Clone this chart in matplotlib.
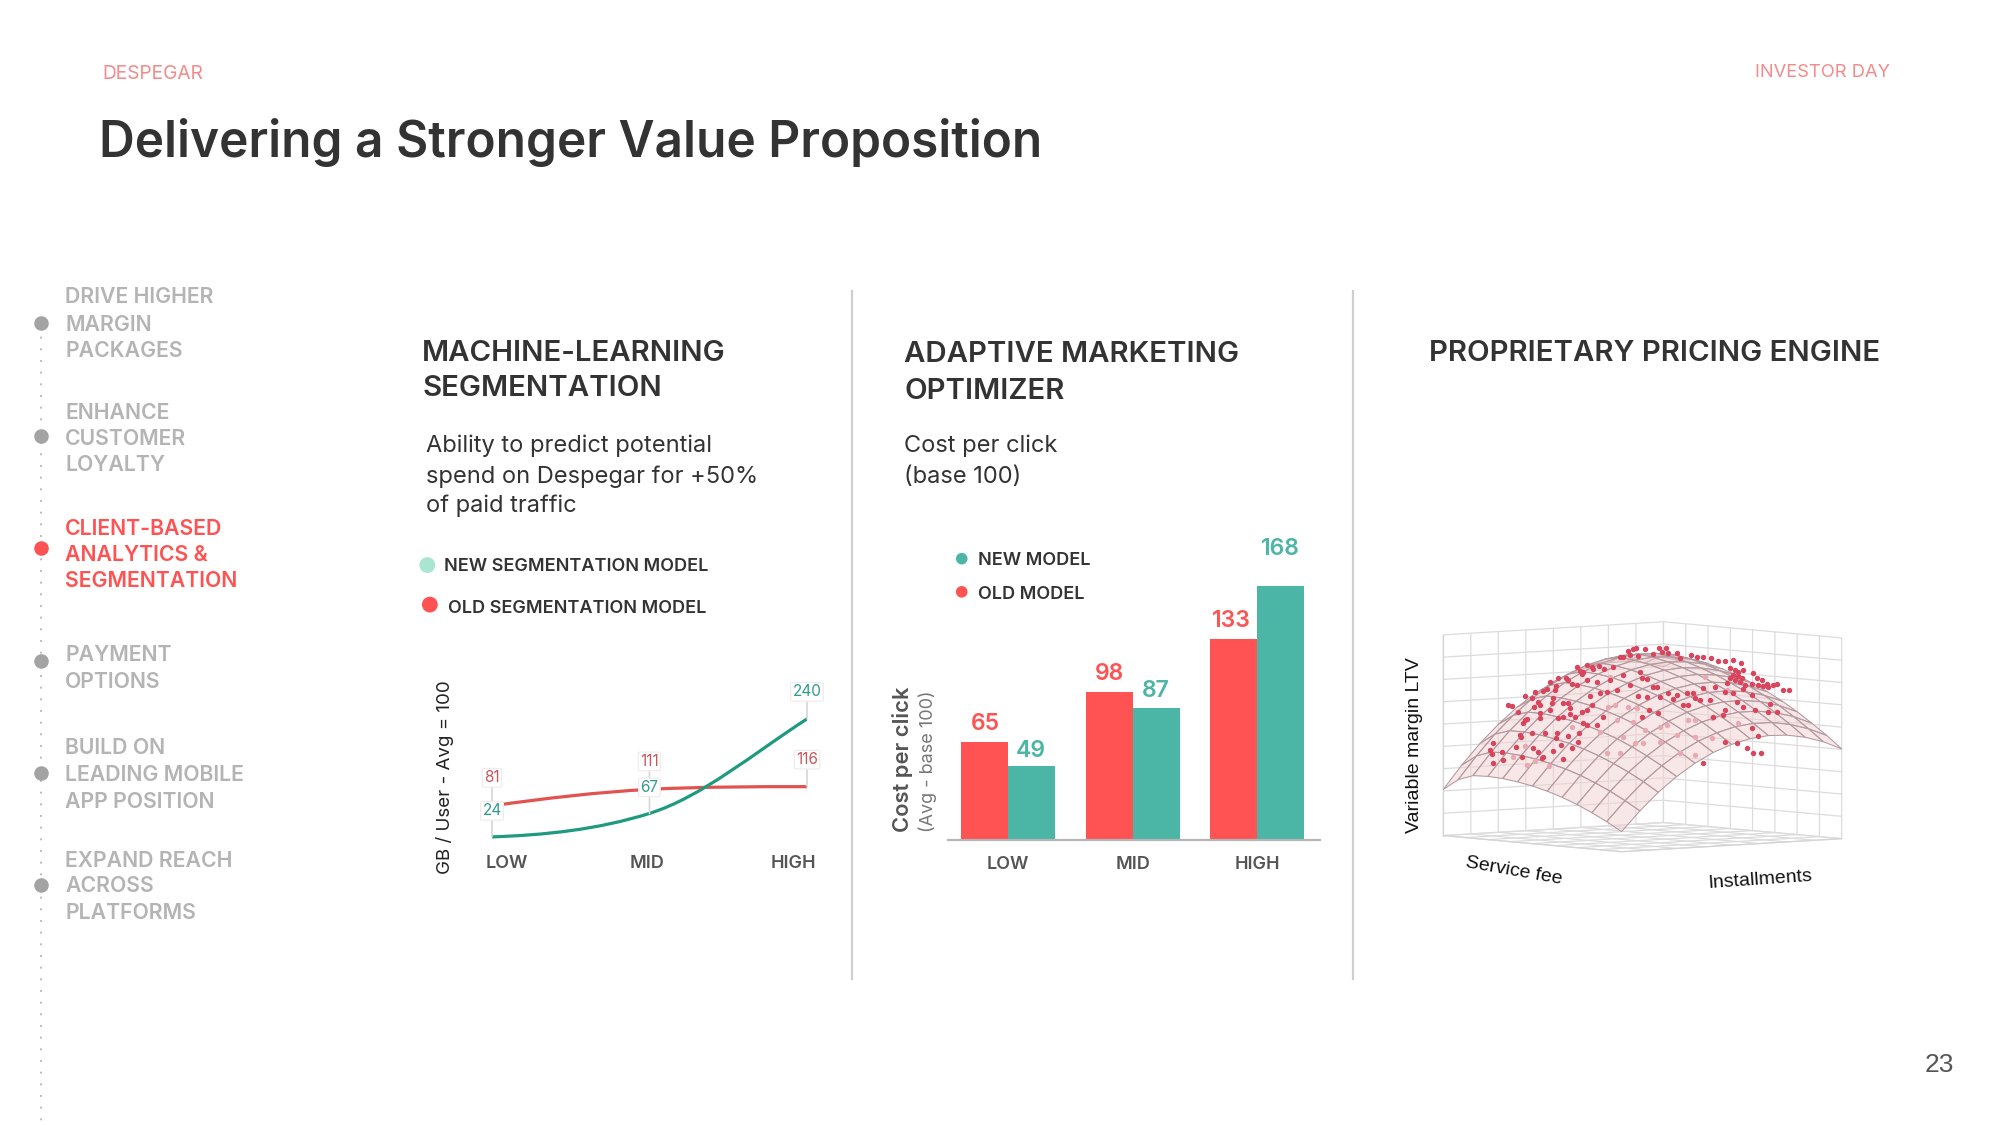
import numpy as np
import matplotlib
matplotlib.use("Agg")
import matplotlib.pyplot as plt
from matplotlib.path import Path
from matplotlib.patches import PathPatch
from mpl_toolkits.mplot3d import proj3d

# ---------- data ----------
nav_items = [("DRIVE HIGHER", "MARGIN", "PACKAGES"), ("ENHANCE", "CUSTOMER", "LOYALTY"),
             ("CLIENT-BASED", "ANALYTICS &", "SEGMENTATION"), ("PAYMENT", "OPTIONS"),
             ("BUILD ON", "LEADING MOBILE", "APP POSITION"), ("EXPAND REACH", "ACROSS", "PLATFORMS")]
categories = ["LOW", "MID", "HIGH"]
seg_new = [24, 67, 240]
seg_old = [81, 111, 116]
seg_new_slopes = [10, 90, 185]
seg_old_slopes = [40, 15, 0]
cpc_old = [65, 98, 133]
cpc_new = [49, 87, 168]

# margin surface: rows along installments, columns along service fee
ltv_surface = np.array([
 [.100,.143,.181,.215,.244,.268,.287,.301,.311,.315,.312,.285,.230],
 [.198,.242,.282,.317,.348,.373,.393,.409,.420,.426,.424,.398,.345],
 [.285,.331,.372,.408,.440,.467,.489,.505,.518,.525,.525,.501,.448],
 [.358,.405,.447,.486,.519,.547,.570,.588,.602,.611,.612,.589,.538],
 [.419,.468,.511,.551,.585,.615,.639,.659,.674,.684,.687,.665,.616],
 [.467,.517,.562,.603,.639,.670,.696,.717,.734,.744,.748,.728,.680],
 [.502,.553,.600,.642,.679,.712,.739,.761,.780,.792,.797,.779,.732],
 [.525,.578,.625,.669,.708,.742,.770,.794,.814,.827,.834,.817,.772],
 [.535,.589,.638,.683,.723,.759,.789,.814,.835,.850,.858,.842,.798],
 [.532,.588,.638,.685,.726,.762,.794,.821,.843,.860,.869,.855,.812],
 [.516,.573,.625,.673,.716,.753,.786,.814,.838,.856,.867,.854,.813],
 [.488,.546,.600,.649,.693,.732,.767,.796,.821,.841,.853,.841,.801],
 [.447,.507,.561,.612,.658,.698,.734,.765,.791,.812,.825,.815,.777]])

# customers, as projected on the picture plane
cust_front = [(355,285),(367,288),(385,307),(404,257),(427,265),(435,245),(458,243),(472,238),(480,215),(497,228),(495,240),(505,203),(527,203),(533,209),(562,172),(570,183),(578,185),(575,192),(592,165),(605,170),(610,177),(628,168),(642,178),(668,172),(690,140),(700,142),(715,122),(728,118),(738,113),(720,135),(745,138),(765,118),(790,132),(808,115),(815,125),(828,115),(835,128),(862,128),(870,145),(903,135),(920,142),(940,142),(962,143),(985,152),(1005,153),(1028,150),(1052,160),(1060,180),(1090,190),(1100,205),(1115,210),(1130,222),(1160,222),(1180,240),(1198,240),
(1020,175),(1035,180),(1045,185),(1030,195),(1045,198),(1055,205),(1020,205),(1035,210),(1050,215),(1010,218),(1065,225),(1085,222),(1105,225),(1120,228),(1135,232),(1150,225),(1060,238),(1085,255),
(445,275),(432,292),(450,285),(490,265),(487,280),(480,300),(450,308),(450,325),(405,330),(400,340),(412,328),(540,295),(535,278),(520,280),(505,325),(520,320),(540,312),(575,305),(590,300),(605,285),(600,258),(630,250),(650,245),(680,240),(720,225),(755,205),(770,207),(750,185),(700,195),(660,210),(620,215),(590,210),(560,225),(545,222),(745,258),(770,262),(790,232),(800,230),(835,250),(860,255),(890,248),(910,250),(940,235),(975,230),(1005,245),(1030,248),(915,265),(930,270),(960,270),(880,285),(895,285),(850,268),(810,260),(778,300),(805,308),(755,320),(640,320),(590,345),(580,340),(555,320),(620,345),(568,370),(535,378),(500,370),(497,385),(465,370),(425,368),(390,375),(392,382),(310,400),(300,420),(305,432),(335,425),(378,410),(430,415),(445,425),(460,440),(490,423),(512,405),(547,415),(565,395),(395,440),(340,450),(308,458),(520,448),(455,445),(1040,398),(1005,397),(1070,415),(1090,428),(1113,430),(1105,378),(1085,355),(938,460),(1140,283),(1160,305),(1135,305),(1095,300),(1060,290),(1040,275),(1005,300),(970,322),(1000,315)]
cust_behind = [(404,408),(370,440),(435,452),(478,468),(410,465),(545,350),(630,365),(655,290),(675,285),(715,290),(740,295),(680,330),(730,335),(700,380),(650,430),(690,430),(735,400),(765,360),(810,350),(830,345),(860,375),(915,380),(965,385),(895,330),(915,330),(965,325),(995,315),(1045,338),(915,435),(870,430),(760,400),(810,395),(1010,240),(945,200),(660,200)]

# ---------- style ----------
RED = "#ff5252"; TEAL = "#4bb6a6"; DARK = "#333333"; GREY = "#b4b4b4"; SALMON = "#f28b8b"
FONT = "Inter"
k = 2000 / 1568

fig = plt.figure(figsize=(20, 11.25), dpi=100, facecolor="white")
ov = fig.add_axes([0, 0, 1, 1], zorder=1)
ov.set_xlim(0, 2000); ov.set_ylim(1125, 0); ov.axis("off")

def T(x, y, s, size, color=DARK, weight=500, family=FONT, ha="left", rot=0, va="center"):
    if rot == 90:
        x += 2.2
    elif rot == 0:
        y += 1.8
    ov.text(x * k, y * k, s, fontsize=size, color=color, fontweight=weight, family=family,
            ha=ha, va=va, rotation=rot, rotation_mode="anchor" if rot else "default")

# header
T(80, 56, "DESPEGAR", 13.8, SALMON, 400)
T(1482, 55, "INVESTOR DAY", 13.2, SALMON, 400, ha="right")
T(78, 110, "Delivering a Stronger Value Proposition", 35.7, DARK, 600)
T(1532, 833, "23", 19, "#555555", 400, "Liberation Sans", ha="right")

# navigation
ov.plot([41, 41], [325, 1125], color="#bdbdbd", lw=1.4, ls=(0, (1, 5)))
nav_y = [[231, 253, 273], [322, 342, 363], [413, 433, 454], [512, 533], [585, 606, 627], [673, 693, 714]]
nav_dot = [253, 342, 430, 518, 606, 694]
for i, (lines, ys, dy) in enumerate(zip(nav_items, nav_y, nav_dot)):
    c = RED if i == 2 else GREY
    for line, y in zip(lines, ys):
        T(51, y, line, 15.3, c, 600)
    ov.scatter([41], [dy * k], s=110, color=RED if i == 2 else "#a3a3a3", lw=0, zorder=3)

# separators
for x in (668, 1061):
    ov.plot([x * k, x * k], [291, 979], color="#cfcfcf", lw=1.6)

# panel headings
HEAD = 21.2
T(331, 275, "MACHINE-LEARNING", HEAD, DARK, 600)
T(331, 303, "SEGMENTATION", HEAD, DARK, 600)
for y, s in zip((348, 372, 395), ("Ability to predict potential", "spend on Despegar for +50%", "of paid traffic")):
    T(334, y, s, 17, DARK, 400)
T(709, 276, "ADAPTIVE MARKETING", HEAD, DARK, 600)
T(709, 305, "OPTIMIZER", HEAD, DARK, 600)
T(709, 348, "Cost per click", 17, DARK, 400)
T(709, 372, "(base 100)", 17, DARK, 400)
T(1120, 275, "PROPRIETARY PRICING ENGINE", HEAD, DARK, 600)

# legends
ov.scatter([335 * k, 337 * k, 754 * k, 754 * k], [443 * k, 474 * k, 438 * k, 464 * k],
           s=[130, 130, 70, 70], color=["#a8e6d2", RED, TEAL, RED], lw=0)
T(348, 442, "NEW SEGMENTATION MODEL", 13, DARK, 600)
T(351, 475, "OLD SEGMENTATION MODEL", 13, DARK, 600)
T(767, 438, "NEW MODEL", 13, DARK, 600)
T(767, 464, "OLD MODEL", 13, DARK, 600)

# ---------- segmentation line chart ----------
def px_axes(l, t, r, b, **kw):
    return fig.add_axes([l / 2000, 1 - b / 1125, (r - l) / 2000, (b - t) / 1125], **kw)

a1 = px_axes(492, 708, 807, 850, zorder=2)
a1.set_xlim(0, 2); a1.set_ylim(0, 260); a1.axis("off"); a1.patch.set_alpha(0)

def smooth(vals, slopes, color):
    verts = [(0, vals[0])]; codes = [Path.MOVETO]
    for i in range(len(vals) - 1):
        verts += [(i + 1 / 3, vals[i] + slopes[i] / 3), (i + 2 / 3, vals[i + 1] - slopes[i + 1] / 3), (i + 1, vals[i + 1])]
        codes += [Path.CURVE4] * 3
    a1.add_patch(PathPatch(Path(verts, codes), fc="none", ec=color, lw=2.3, zorder=3, capstyle="round"))

smooth(seg_old, seg_old_slopes, "#e2534f")
smooth(seg_new, seg_new_slopes, "#1f9a80")

label_dy_old = [28, 28, 27]
label_dy_new = [26, 26, 27]
for i, (vo, vn) in enumerate(zip(seg_old, seg_new)):
    for v, dy, c, z in ((vo, label_dy_old[i], "#c9575a", 4), (vn, label_dy_new[i], "#2f9c8c", 5)):
        a1.annotate(str(v), xy=(i, v), xytext=(0, dy * .72), textcoords="offset points", ha="center", va="center",
                    fontsize=11, color=c, family=FONT, zorder=z,
                    bbox=dict(boxstyle="round,pad=0.12", fc="white", ec="#f0eaea", lw=.8),
                    arrowprops=dict(arrowstyle="-", color="#d6d6d6", lw=1.2, shrinkA=0, shrinkB=0))

for x, s in zip((397, 507, 622), categories):
    T(x, 675, s, 13, "#555555", 600, ha="center")
T(347, 609, "GB / User - Avg = 100", 13.5, "#222222", 400, ha="center", rot=90)

# ---------- cost per click bars ----------
a2 = px_axes(948, 567.5, 1320, 840, zorder=2)
a2.set_xlim(-.481, 2.502); a2.set_ylim(0, 180); a2.patch.set_alpha(0)
x = np.arange(len(categories))
w = .377
a2.bar(x - w / 2, cpc_old, w, color=RED)
a2.bar(x + w / 2, cpc_new, w, color=TEAL)
for s in ("top", "left", "right"):
    a2.spines[s].set_visible(False)
a2.spines["bottom"].set_color("#b5b5b5"); a2.spines["bottom"].set_linewidth(1.6)
a2.set_yticks([]); a2.set_xticks(x, categories, fontsize=13, color="#555555", fontweight=600, family=FONT)
a2.tick_params(axis="x", length=0, pad=11.5)
old_lab = [(985, 722), (1109, 672), (1231, 619)]
new_lab = [(1031, 749), (1156, 689), (1280, 547)]
for v, (lx, ly) in zip(cpc_old, old_lab):
    T(lx / k, ly / k, str(v), 16.5, RED, 600, ha="center")
for v, (lx, ly) in zip(cpc_new, new_lab):
    T(lx / k, ly / k, str(v), 16.5, TEAL, 600, ha="center")
T(705, 595, "Cost per click", 15.8, "#555555", 600, ha="center", rot=90)
T(725, 597, "(Avg - base 100)", 13, "#777777", 400, ha="center", rot=90)

# ---------- pricing surface ----------
a3 = fig.add_axes([.72, .2, .2, .2 * 2000 / 1125], projection="3d", zorder=2, proj_type="ortho")
a3.patch.set_alpha(0)
a3.view_init(elev=4.2, azim=51)
a3.set_box_aspect((850, 850, 604))
a3.set_xlim(0, 1, view_margin=0); a3.set_ylim(0, 1, view_margin=0); a3.set_zlim(0, 1, view_margin=0)
n = ltv_surface.shape[0]
inst = 1 - np.arange(n) / (n - 1)
fee = 1 - np.arange(n) / (n - 1)
Y, X = np.meshgrid(fee, inst)
a3.plot_surface(X, Y, ltv_surface, rstride=1, cstride=1, color=(.95, .82, .82, .5), edgecolor="#b3989f",
                linewidth=.75, shade=False, antialiased=True)
grid_x = np.arange(0, 9) / 8
grid_z = np.arange(0, 10) / 9
a3.set_xticks(grid_x); a3.set_yticks(grid_x); a3.set_zticks(grid_z)
a3.set_xticklabels([]); a3.set_yticklabels([]); a3.set_zticklabels([])
for ax_ in (a3.xaxis, a3.yaxis, a3.zaxis):
    ax_.set_pane_color((1, 1, 1, 0))
    ax_.pane.set_edgecolor("#d4d4d4")
    ax_.line.set_color("#d4d4d4"); ax_.line.set_linewidth(.9)
    ax_._axinfo["grid"].update(color="#dcdcdc", linewidth=.9)
    ax_._axinfo["tick"].update(inward_factor=0, outward_factor=0)

# fit the box to its place on the page
target_l, target_r, target_b = 1443.3, 1841.7, 851.7
for _ in range(3):
    fig.canvas.draw()
    M = a3.get_proj()
    pts = []
    for c in ((1, 0, 0), (0, 1, 0), (1, 1, 0)):
        px, py, _z = proj3d.proj_transform(*c, M)
        pts.append(a3.transData.transform((px, py)))
    pts = np.array(pts)
    xmin, xmax = pts[:, 0].min(), pts[:, 0].max()
    ybot = 1125 - pts[2, 1]
    pos = a3.get_position()
    scale = (target_r - target_l) / (xmax - xmin)
    W = pos.width * 2000 * scale
    cx = pos.x0 * 2000 + pos.width * 1000
    cy = (1 - pos.y0) * 1125 - pos.height * 562.5
    ncx = target_l + (cx - xmin) * scale
    ncy = target_b + (cy - ybot) * scale
    a3.set_position([(ncx - W / 2) / 2000, 1 - (ncy + W / 2) / 1125, W / 2000, W / 1125])

a4 = px_axes(1390, 610, 1870, 910, zorder=3)
a4.set_xlim(0, 1440); a4.set_ylim(900, 0); a4.axis("off"); a4.patch.set_alpha(0)
a4.scatter(*zip(*cust_behind), s=15, color="#e9a9b3", lw=0)
a4.scatter(*zip(*cust_front), s=15, color="#d8455c", lw=0)

T(1107, 584, "Variable margin LTV", 14, "#111111", 400, "Liberation Sans", ha="center", rot=90)
T(1187, 683, "Service fee", 14, "#111111", 400, "Liberation Sans", ha="center", rot=-10)
T(1380, 690, "Installments", 14, "#111111", 400, "Liberation Sans", ha="center", rot=4)

fig.savefig("out.png", dpi=100, facecolor="white")
